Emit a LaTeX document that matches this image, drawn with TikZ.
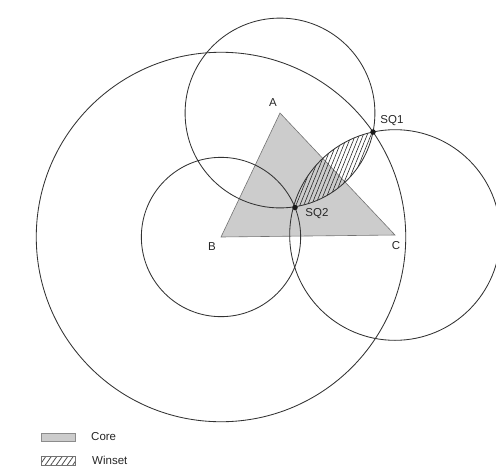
\documentclass[tikz,border=0pt]{standalone}
\usepackage{fontspec}
\setmainfont{Liberation Sans}
\usetikzlibrary{calc,patterns.meta}
\begin{document}
\begin{tikzpicture}[x=1pt,y=-1pt,
  curve/.style={draw=black!80, line width=0.85pt},
  coreshade/.style={fill=black!20},
  edge/.style={draw=black!55, line width=0.6pt},
  winhatch/.style={pattern={Lines[angle=68,distance=3.6pt,line width=0.6pt]}, pattern color=black!85},
  leghatch/.style={pattern={Lines[angle=55,distance=4.5pt,line width=0.8pt]}, pattern color=black!70},
  lab/.style={font=\fontsize{11.5}{13}\selectfont, text=black!85, inner sep=0pt},
  sqdot/.style={circle, fill=black!90, inner sep=0pt, minimum size=5.5pt}]
\useasboundingbox (0,0) rectangle (496,467);
\coordinate (A) at (280,113);
\coordinate (B) at (221,237);
\coordinate (C) at (395,235);
\coordinate (SQ1) at (373,132);
\coordinate (SQ2) at (295,207.5);
% core
\fill[coreshade] (A) -- (B) -- (C) -- cycle;
\draw[edge] (A) -- (B) -- (C) -- cycle;
% winset lens
\begin{scope}
  \clip let \p1=($(SQ1)-(A)$), \n1={veclen(\x1,\y1)} in (A) circle[radius=\n1];
  \fill[winhatch] let \p2=($(SQ1)-(C)$), \n2={veclen(\x2,\y2)} in (C) circle[radius=\n2];
\end{scope}
% indifference circles
\draw[curve] let \p1=($(SQ1)-(A)$), \n1={veclen(\x1,\y1)} in (A) circle[radius=\n1];
\draw[curve] let \p2=($(SQ1)-(C)$), \n2={veclen(\x2,\y2)} in (C) circle[radius=\n2];
\draw[curve] let \p3=($(SQ1)-(B)$), \n3={veclen(\x3,\y3)} in (B) circle[radius=\n3];
\draw[curve] let \p4=($(SQ2)-(B)$), \n4={veclen(\x4,\y4)} in (B) circle[radius=\n4];
% status quo points
\node[sqdot] (sq1) at (SQ1) {};
\node[sqdot] (sq2) at (SQ2) {};
% labels
\node[lab] (la) at (273,103) {A};
\node[lab] (lb) at (212,247) {B};
\node[lab] (lc) at (396,246) {C};
\node[lab] (lsq1) at (392,121) {SQ1};
\node[lab] (lsq2) at (317,214) {SQ2};
% legend
\filldraw[coreshade, draw=black!45, line width=0.6pt] (41,433) rectangle (75,441.5);
\node[lab, anchor=west] (lcore) at (91,437) {Core};
\draw[leghatch] (41,456) rectangle (75,465);
\draw[draw=black!55, line width=0.6pt] (41,456) rectangle (75,465);
\node[lab, anchor=west] (lwin) at (92,460.5) {Winset};
\end{tikzpicture}
\end{document}
